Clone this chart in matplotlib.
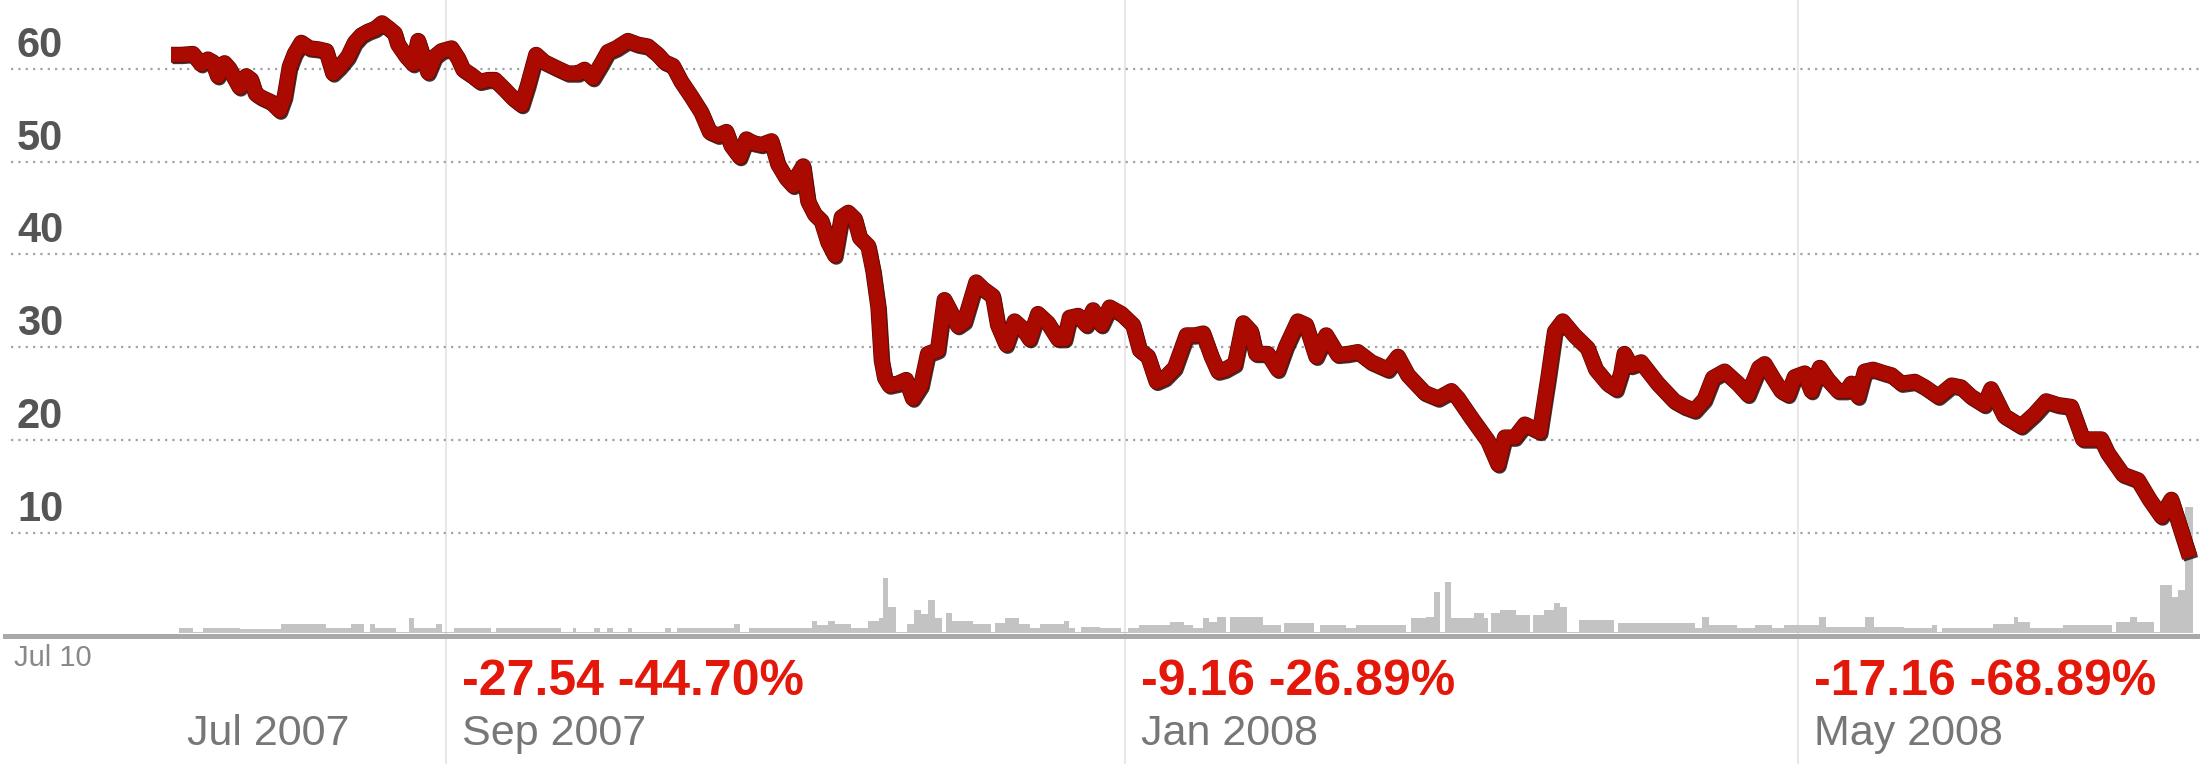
import matplotlib
matplotlib.use("Agg")
import matplotlib.pyplot as plt
import matplotlib.patheffects as pe
import matplotlib.transforms as mtransforms
import numpy as np

plt.rcParams['font.family'] = ['Liberation Sans', 'DejaVu Sans']

# days counted from 1 Sep 2007, closing price
price_days = [-49.4, -47.6, -45.5, -44.0, -42.8, -41.9, -41.0, -39.8, -38.9, -38.3,
              -37.1, -35.9, -35.0, -34.2, -33.2, -31.4, -29.9, -29.0, -28.1, -27.2,
              -26.0, -24.5, -23.0, -21.5, -20.3, -19.1, -17.6, -16.4, -15.2, -14.0,
              -12.7, -11.5, -10.2, -9.2, -8.6, -7.1, -5.9, -5.0, -4.1, -3.2,
              -2.0, -0.8, 1.0, 2.2, 3.1, 4.6, 6.1, 7.6, 8.8, 10.5,
              12.1, 13.6, 14.7, 16.2, 17.7, 20.1, 21.9, 23.7, 24.9, 26.4,
              27.9, 29.1, 30.6, 32.7, 34.5, 36.3, 38.1, 39.3, 40.8, 42.3,
              44.1, 45.9, 47.4, 48.9, 50.4, 51.3, 52.8, 54.0, 55.2, 56.7,
              58.5, 59.7, 61.2, 62.4, 63.3, 64.2, 65.1, 66.3, 67.5, 68.7,
              69.9, 71.1, 72.3, 73.5, 74.4, 75.9, 76.8, 77.7, 78.3, 78.9,
              79.7, 81.2, 82.7, 83.9, 85.4, 86.6, 88.4, 89.6, 91.0, 92.0,
              93.2, 95.3, 96.5, 98.3, 99.2, 100.7, 102.2, 103.7, 104.9, 106.4,
              108.2, 110.0, 111.2, 112.1, 113.6, 115.1, 116.3, 117.8, 119.3, 121.4,
              123.5, 124.7, 126.2, 127.7, 129.2, 131.0, 133.1, 134.6, 136.1, 137.6,
              138.8, 140.0, 141.8, 143.3, 144.7, 145.6, 147.7, 149.5, 151.0, 153.1,
              154.6, 156.4, 158.2, 160.3, 162.1, 163.9, 166.3, 169.3, 171.1, 172.9,
              175.9, 178.3, 180.7, 181.9, 184.3, 187.3, 189.1, 190.3, 192.1, 193.9,
              196.6, 198.1, 199.3, 200.7, 202.8, 205.2, 206.7, 208.8, 210.3, 211.2,
              211.8, 213.0, 214.8, 217.8, 220.8, 222.6, 224.4, 226.2, 227.7, 229.8,
              232.2, 234.0, 236.0, 237.0, 238.5, 240.0, 241.2, 242.4, 244.2, 245.4,
              246.9, 248.4, 250.2, 251.7, 252.6, 253.8, 255.0, 256.5, 258.6, 259.8,
              261.6, 264.0, 265.8, 268.2, 270.6, 272.3, 274.1, 276.5, 277.7, 280.1,
              283.1, 285.5, 287.6, 289.7, 292.1, 294.2, 297.5, 298.7, 301.4, 304.1,
              306.2, 308.3, 310.1, 313.4]
price = [61.5, 61.5, 61.6, 60.5, 61.0, 60.7, 59.2, 60.6, 60.0, 59.3,
         58.0, 59.2, 58.8, 57.3, 56.9, 56.4, 55.5, 57.0, 60.2, 61.6,
         62.8, 62.2, 62.1, 61.9, 59.5, 60.2, 61.3, 62.8, 63.6, 64.0,
         64.3, 64.9, 64.3, 63.8, 62.6, 61.3, 60.5, 63.0, 61.3, 59.6,
         61.3, 61.9, 62.2, 61.1, 59.9, 59.3, 58.6, 58.8, 58.8, 57.8,
         56.8, 56.1, 58.2, 61.5, 60.7, 60.0, 59.5, 59.5, 59.9, 59.0,
         60.5, 61.8, 62.2, 63.0, 62.6, 62.4, 61.5, 60.7, 60.3, 58.6,
         57.0, 55.3, 53.2, 52.8, 53.2, 51.7, 50.5, 52.4, 52.0, 51.8,
         52.2, 49.7, 48.2, 47.4, 48.6, 49.5, 45.7, 44.3, 43.6, 41.3,
         39.9, 44.0, 44.5, 43.8, 41.8, 40.9, 38.2, 34.3, 28.6, 26.7,
         25.9, 26.1, 26.5, 24.5, 25.9, 29.3, 29.7, 35.1, 33.5, 32.3,
         32.8, 37.0, 36.3, 35.5, 32.4, 30.3, 32.8, 32.0, 30.9, 33.6,
         32.6, 30.9, 30.9, 33.2, 33.4, 32.4, 34.0, 32.4, 34.3, 33.6,
         32.4, 29.7, 29.0, 26.3, 26.7, 27.8, 31.3, 31.3, 31.5, 29.0,
         27.4, 27.6, 28.2, 32.6, 31.7, 29.3, 29.3, 27.6, 30.1, 32.8,
         32.4, 29.0, 31.3, 29.2, 29.3, 29.5, 28.4, 27.6, 29.0, 27.0,
         25.1, 24.5, 25.3, 24.5, 22.4, 19.9, 17.4, 20.3, 20.3, 21.7,
         20.9, 26.7, 31.7, 32.8, 31.3, 29.9, 27.6, 26.1, 25.5, 27.2,
         29.3, 28.0, 28.4, 26.1, 24.2, 23.6, 23.2, 24.4, 26.7, 27.4,
         26.1, 24.9, 27.8, 28.2, 26.7, 25.3, 24.9, 26.8, 27.2, 25.3,
         27.8, 26.5, 25.3, 25.3, 26.1, 24.7, 27.4, 27.6, 27.2, 27.0,
         26.1, 26.3, 25.7, 24.7, 25.9, 25.7, 24.7, 23.8, 25.5, 22.6,
         21.5, 22.8, 24.2, 23.8, 23.6, 20.1, 20.1, 18.6, 16.3, 15.7,
         13.6, 11.8, 13.6, 7.4]

# volume bars: edges (days from 1 Sep 2007) and heights
vol_edges = [-48.0, -45.5, -43.6, -37.0, -29.6, -21.5, -17.1, -14.7, -13.6, -12.7,
             -8.9, -6.7, -5.7, -1.8, -0.8, 1.4, 8.1, 9.0, 20.7, 22.8,
             23.3, 26.6, 27.7, 28.9, 30.0, 32.7, 33.4, 39.4, 40.5, 41.5,
             45.0, 51.8, 52.9, 54.5, 55.4, 60.2, 65.7, 66.6, 68.7, 70.0,
             72.7, 75.9, 77.8, 78.6, 79.5, 80.9, 82.8, 84.1, 85.3, 86.6,
             87.8, 89.1, 89.8, 91.0, 94.8, 98.0, 98.6, 100.5, 103.0, 104.9,
             106.8, 111.1, 112.0, 113.1, 114.2, 117.5, 121.3, 122.6, 124.5, 130.2,
             132.7, 134.2, 136.0, 137.2, 138.5, 140.1, 140.9, 146.8, 150.0, 150.7,
             156.0, 157.0, 161.7, 163.5, 172.5, 173.4, 176.2, 177.5, 178.6, 179.6,
             180.7, 184.7, 186.6, 187.2, 187.9, 189.5, 192.3, 194.8, 195.4, 197.3,
             199.2, 200.2, 201.5, 203.6, 209.9, 210.6, 217.5, 224.4, 225.7, 227.0,
             232.0, 235.2, 238.3, 240.5, 246.8, 248.0, 255.0, 256.6, 262.0, 267.0,
             268.0, 268.9, 278.0, 281.8, 282.5, 284.6, 290.6, 299.5, 300.1, 302.6,
             304.0, 307.0, 308.0, 310.2, 311.2, 312.6, 314.0]
volume = [4.7, 1.3, 4.7, 3.7, 8.7, 4.7, 8.7, 1.3, 8.7, 4.7,
          1.3, 15.3, 4.7, 8.7, 1.3, 4.7, 1.3, 4.7, 1.3, 4.7,
          1.3, 4.7, 1.3, 4.7, 1.3, 4.7, 1.3, 4.7, 1.3, 4.7,
          5.3, 8.7, 1.3, 5.3, 4.7, 5.3, 12, 8, 12, 8.7,
          4.7, 12, 15.3, 54.7, 26.3, 1.3, 8.7, 23, 18.7, 33,
          15.3, 1.3, 19.7, 12, 8.7, 1.3, 9.7, 15.3, 8.7, 4.7,
          8.7, 12, 4.7, 1.3, 6.5, 4.7, 1.3, 4.7, 8, 11.3,
          8, 4.7, 14.7, 11, 15.7, 1.3, 15.7, 8, 1.3, 10,
          1.3, 8, 4.7, 8, 1.3, 14.7, 16.3, 41.3, 1.3, 51.3,
          15, 19.7, 15, 1.3, 19.7, 23, 18, 1.3, 18, 23,
          29.7, 26.3, 1.3, 13, 1.3, 10, 9.7, 4.7, 15.7, 8,
          4.7, 8, 4.7, 8, 15.7, 6, 15.7, 6, 4.7, 8,
          1.3, 4.7, 9, 15.7, 11, 4.7, 8, 1.3, 11, 15.7,
          10.7, 1.3, 48, 36.3, 43, 126]

grid_levels = [10, 20, 30, 40, 50, 60]
month_lines = [0, 122, 243]            # Sep 1 2007, Jan 1 2008, May 1 2008
month_label_days = [-49.4, 0, 122, 243]
month_labels = ["Jul 2007", "Sep 2007", "Jan 2008", "May 2008"]
change_days = [0, 122, 243]
change_labels = ["-27.54 -44.70%", "-9.16 -26.89%", "-17.16 -68.89%"]
start_label = "Jul 10"

W, H = 2200, 764
fig = plt.figure(figsize=(W / 100, H / 100), dpi=100)
fig.patch.set_facecolor('white')

px_per_day = 5.564
x0 = -446 / px_per_day
x1 = (W - 446) / px_per_day

ax_vol = fig.add_axes([0, 0, 1, 1])
ax = fig.add_axes([0, 0, 1, 1], sharex=ax_vol)
ax.patch.set_alpha(0)
for a in (ax_vol, ax):
    a.axis('off')
ax_vol.set_xlim(x0, x1)
ax_vol.set_ylim(-(H - 633), 633)
ax.set_ylim(10 - (H - 533.1) * 50 / 464.4, 60 + 68.7 * 50 / 464.4)

# month separators
for d in month_lines:
    ax_vol.axvline(d, color='#e8e8e8', lw=1.5, zorder=0)

# volume
widths = np.diff(vol_edges)
ax_vol.bar(vol_edges[:-1], volume, width=widths, align='edge', color='#c3c3c3',
           linewidth=0, zorder=1)
ax_vol.axhline(-2.5, xmin=5 / W, color='#a9a9a9', lw=3.6, zorder=2)

# dotted grid
for lv in grid_levels:
    ax.axhline(lv, xmin=11 / W, color='#a3a3a3', lw=1.6, ls=(0, (1, 2.3)), zorder=1)

lab_tr = mtransforms.offset_copy(ax.get_yaxis_transform(), fig=fig, x=0, y=12, units='dots')
for lv in grid_levels:
    ax.text(17 / W, lv, str(lv), transform=lab_tr, fontsize=30, fontweight='bold',
            color='#555555', ha='left', va='baseline')

# price line
ax.plot(price_days, price, color='#ab0a00', lw=10.5, solid_capstyle='butt',
        solid_joinstyle='round', zorder=5,
        path_effects=[pe.SimpleLineShadow(offset=(1.0, -1.5), shadow_color='#1a0000', alpha=0.8),
                      pe.Stroke(linewidth=11.5, foreground='#5a0500'),
                      pe.Normal()])

# bottom labels
blend = mtransforms.blended_transform_factory(ax.transData, fig.transFigure)
off_tr = mtransforms.offset_copy(blend, fig=fig, x=16, y=0, units='dots')
for d, t in zip(month_label_days, month_labels):
    ax.text(d, 1 - 745 / H, t, transform=off_tr, fontsize=31, color='#777777',
            ha='left', va='baseline')
for d, t in zip(change_days, change_labels):
    ax.text(d, 1 - 695 / H, t, transform=off_tr, fontsize=36, fontweight='bold',
            color='#e3170a', ha='left', va='baseline')
fig.text(14 / W, 1 - 666 / H, start_label, fontsize=21, color='#888888',
         ha='left', va='baseline')

fig.savefig('out.png', dpi=100, facecolor='white')
plt.close()
